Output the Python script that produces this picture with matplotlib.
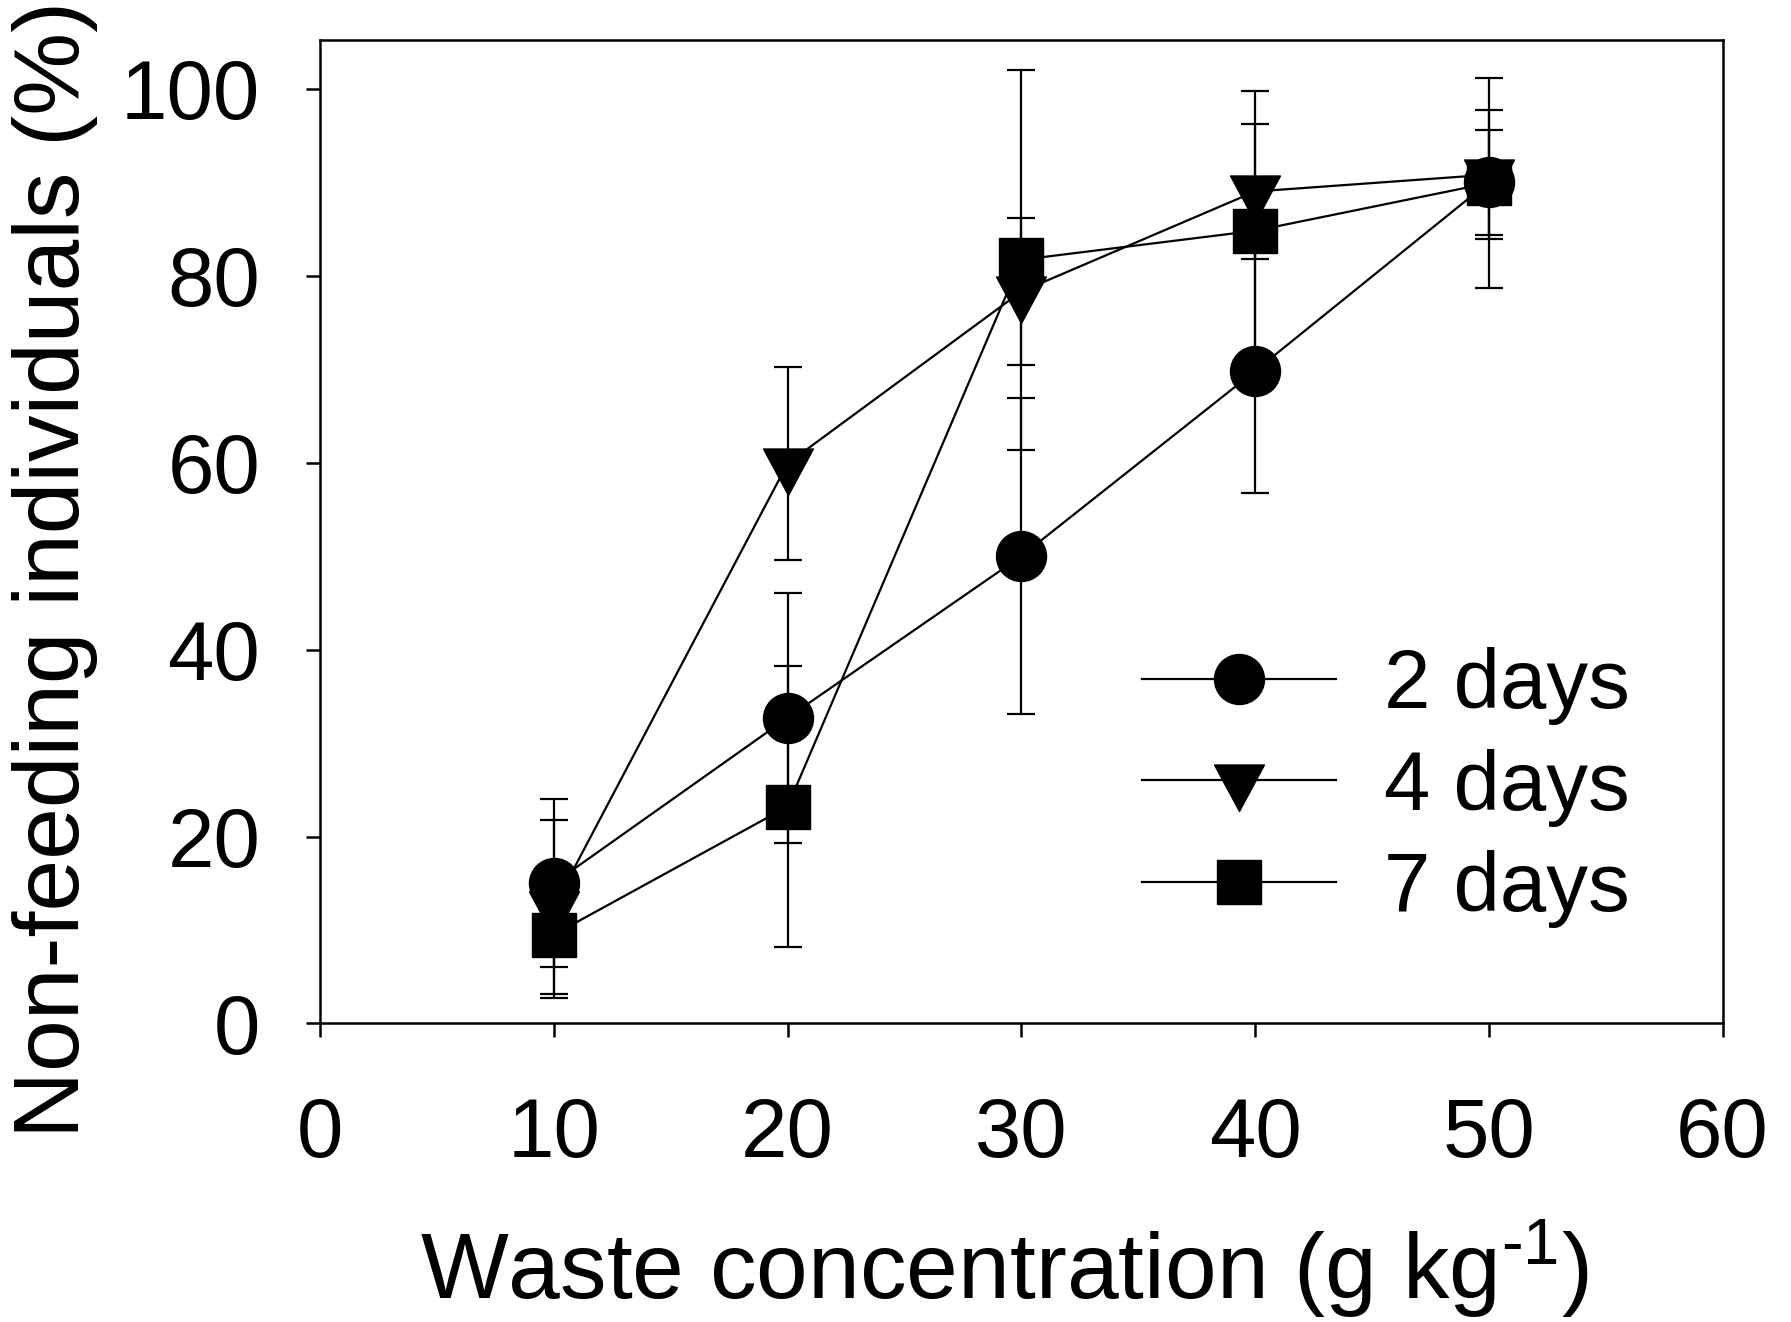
import numpy as np
import matplotlib
matplotlib.use("Agg")
import matplotlib.pyplot as plt
from matplotlib.path import Path

# données
conc = [10, 20, 30, 40, 50]

day2 = [15.0, 32.7, 50.0, 69.8, 90.0]
day2_err = [9.0, 13.4, 16.9, 13.1, 5.6]

day4 = [12.5, 59.9, 78.3, 89.0, 90.8]
day4_err = [9.3, 10.3, 7.9, 7.2, 6.9]

day7 = [9.5, 23.2, 81.7, 84.8, 89.9]
day7_err = [6.8, 15.0, 20.3, 15.0, 11.2]

labels = ["2 days", "4 days", "7 days"]
x_ticks = [0, 10, 20, 30, 40, 50, 60]
y_ticks = [0, 20, 40, 60, 80, 100]

plt.rcParams['font.family'] = ['Liberation Sans', 'DejaVu Sans']
plt.rcParams['mathtext.fontset'] = 'custom'
plt.rcParams['mathtext.rm'] = 'Liberation Sans'
plt.rcParams['mathtext.default'] = 'regular'

# triangle pointe en bas centré sur son centre de gravité (comme SigmaPlot)
tri_down = Path([(-0.806, 0.5), (0.806, 0.5), (0.0, -1.0), (-0.806, 0.5)],
                [Path.MOVETO, Path.LINETO, Path.LINETO, Path.CLOSEPOLY])

fig = plt.figure(figsize=(8.955, 6.61), dpi=200)
ax = fig.add_axes([0.1787, 0.2258, 0.7831, 0.7439])

lw = 0.8
series = [
    (day2, day2_err, 'o', 18),
    (day4, day4_err, tri_down, 22.3),
    (day7, day7_err, 's', 15.5),
]

# barres d'erreur d'abord
for y, e, m, ms in series:
    ax.errorbar(conc, y, yerr=e, fmt='none', ecolor='black', elinewidth=lw,
                capsize=5, capthick=lw, zorder=2)

# courbes + symboles
handles = []
for (y, e, m, ms), lab, z in zip(series, labels, [5, 4, 3]):
    h, = ax.plot(conc, y, color='black', linewidth=lw, marker=m,
                 markersize=ms, markerfacecolor='black',
                 markeredgecolor='black', markeredgewidth=0.5,
                 label=lab, zorder=z)
    handles.append(h)

ax.set_xlim(0, 60)
ax.set_ylim(0, 105.2)
ax.set_xticks(x_ticks)
ax.set_yticks(y_ticks)
ax.tick_params(axis='both', direction='out', length=5, width=0.9,
               labelsize=30, color='black')
ax.tick_params(axis='x', pad=21)
ax.tick_params(axis='y', pad=16.5)
for sp in ax.spines.values():
    sp.set_linewidth(0.9)

ax.set_xlabel(r"Waste concentration (g kg$^{\text{-1}}$)", fontsize=33.5,
              va='center', ha='center')
ax.xaxis.set_label_coords(0.488, -0.249)
ax.set_ylabel("Non-feeding individuals (%)", fontsize=33.5,
              va='center', ha='center')
ax.yaxis.set_label_coords(-0.189, 0.462)

ax.legend(handles=handles, loc='center left', bbox_to_anchor=(0.586, 0.2398),
          frameon=False, fontsize=30, handlelength=2.33, handletextpad=0.58,
          borderpad=0, borderaxespad=0, labelspacing=0.28, numpoints=1)

fig.savefig("out.png", dpi=200)
